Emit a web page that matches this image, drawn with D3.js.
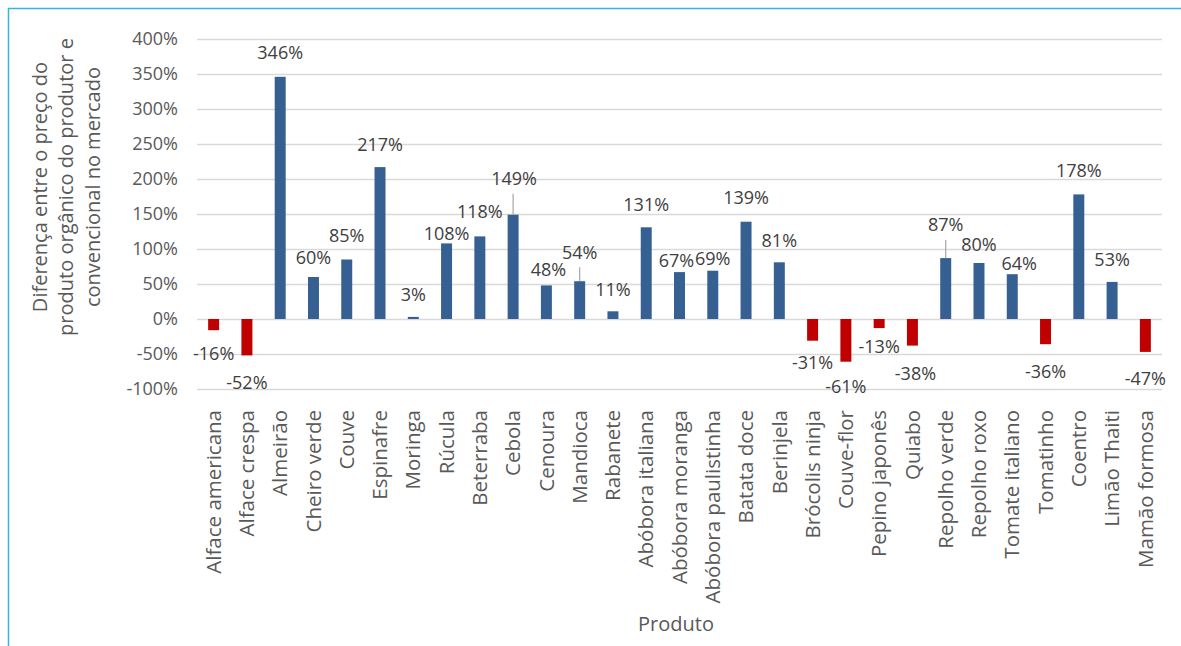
<!DOCTYPE html>
<html>
<head>
<meta charset="utf-8">
<script src="https://cdn.jsdelivr.net/npm/d3@7"></script>
<style>
  html, body { margin: 0; padding: 0; background: #fff; }
  svg { display: block; font-family: "Open Sans", "DejaVu Sans", sans-serif; }
</style>
</head>
<body>
<svg id="chart" width="1181" height="646"></svg>
<script>
// Produtos e diferença percentual (orgânico do produtor vs convencional no mercado)
const produtos = [
  "Alface americana", "Alface crespa", "Almeirão", "Cheiro verde", "Couve",
  "Espinafre", "Moringa", "Rúcula", "Beterraba", "Cebola", "Cenoura",
  "Mandioca", "Rabanete", "Abóbora italiana", "Abóbora moranga",
  "Abóbora paulistinha", "Batata doce", "Berinjela", "Brócolis ninja",
  "Couve-flor", "Pepino japonês", "Quiabo", "Repolho verde", "Repolho roxo",
  "Tomate italiano", "Tomatinho", "Coentro", "Limão Thaiti", "Mamão formosa"
];
const diferenca = [
  -16, -52, 346, 60, 85, 217, 3, 108, 118, 149, 48, 54, 11, 131, 67, 69,
  139, 81, -31, -61, -13, -38, 87, 80, 64, -36, 178, 53, -47
];
const yTicks = [-100, -50, 0, 50, 100, 150, 200, 250, 300, 350, 400];

// Hand-placed data-label offsets (px from the end of each bar)
const labelLift = [
  23, 27, -24, -19, -24, -22, -22, -10, -25, -36, -16, -29, -22, -23, -11,
  -12, -24, -22, 22, 25, 19, 28, -33, -18, -11, 27, -24, -22, 27
];
const labelShiftX = [
  0, 0, 0, 0, 0, 0, 0, 0, 0, 1, 2, 0, 0, 0, -3,
  0, 0, 0, 0, 0, 0, 3, 0, 0, 7, 0, 0, 0, 0
];

const svg = d3.select("#chart");
const plot = { left: 197, right: 1162, top: 39, bottom: 389 };

const x = d3.scaleBand()
  .domain(produtos)
  .range([plot.left, plot.right])
  .paddingInner(0.67)
  .paddingOuter(0.335);

const y = d3.scaleLinear()
  .domain([-100, 400])
  .range([plot.bottom, plot.top]);

// Frame lines
svg.append("line").attr("x1", 8).attr("x2", 1181).attr("y1", 8.5).attr("y2", 8.5)
  .attr("stroke", "#35b2e8").attr("stroke-width", 1.5);
svg.append("line").attr("x1", 8.5).attr("x2", 8.5).attr("y1", 8).attr("y2", 646)
  .attr("stroke", "#35b2e8").attr("stroke-width", 1.5);

// Gridlines
svg.append("g").selectAll("line").data(yTicks).join("line")
  .attr("x1", plot.left).attr("x2", plot.right)
  .attr("y1", d => Math.round(y(d)) + 0.5).attr("y2", d => Math.round(y(d)) + 0.5)
  .attr("stroke", "#d9d9d9").attr("stroke-width", 1.3);

// Y axis
const yAxis = svg.append("g")
  .attr("transform", `translate(${plot.left - 19},0)`)
  .call(d3.axisLeft(y).tickValues(yTicks).tickSize(0).tickPadding(0)
    .tickFormat(d => d + "%"));
yAxis.select(".domain").remove();
yAxis.selectAll("text")
  .attr("fill", "#595959").style("font-size", "18px")
  .style("font-family", "'Open Sans', sans-serif");

// Bars
svg.append("g").selectAll("rect").data(produtos).join("rect")
  .attr("x", d => x(d))
  .attr("width", x.bandwidth())
  .attr("y", (d, i) => y(Math.max(0, diferenca[i])))
  .attr("height", (d, i) => Math.abs(y(diferenca[i]) - y(0)))
  .attr("fill", (d, i) => diferenca[i] < 0 ? "#c00000" : "#366092");

// Leader lines for labels lifted far from their bars
svg.append("g").selectAll("line").data(produtos.filter((d, i) => labelLift[i] <= -29)).join("line")
  .attr("x1", d => x(d) + x.bandwidth() / 2)
  .attr("x2", d => x(d) + x.bandwidth() / 2)
  .attr("y1", d => { const i = produtos.indexOf(d); return y(diferenca[i]) + labelLift[i] + 15; })
  .attr("y2", d => { const i = produtos.indexOf(d); return y(diferenca[i]); })
  .attr("stroke", "#a6a6a6").attr("stroke-width", 1.2);

// Data labels
svg.append("g").selectAll("text").data(produtos).join("text")
  .attr("x", (d, i) => x(d) + x.bandwidth() / 2 + labelShiftX[i])
  .attr("y", (d, i) => y(diferenca[i]) + labelLift[i])
  .attr("dy", "0.35em")
  .attr("text-anchor", "middle")
  .attr("fill", "#404040")
  .style("font-size", "18px")
  .text((d, i) => diferenca[i] + "%");

// Category labels
const xAxis = svg.append("g")
  .attr("transform", `translate(0,${plot.bottom + 21})`)
  .call(d3.axisBottom(x).tickSize(0).tickPadding(0));
xAxis.select(".domain").remove();
xAxis.selectAll("text")
  .attr("transform", "rotate(-90)")
  .attr("x", 0).attr("y", 0).attr("dy", "0.35em")
  .attr("text-anchor", "end")
  .attr("fill", "#595959").style("font-size", "20.5px")
  .style("font-family", "'Open Sans', sans-serif");

// Axis titles
svg.append("text")
  .attr("x", 676).attr("y", 631)
  .attr("text-anchor", "middle")
  .attr("fill", "#595959").style("font-size", "20px")
  .text("Produto");

const yTitle = svg.append("text")
  .attr("transform", "translate(66,187) rotate(-90)")
  .attr("text-anchor", "middle")
  .attr("fill", "#595959").style("font-size", "20px");
["Diferença entre o preço do", "produto orgânico do produtor e", "convencional no mercado"]
  .forEach((t, k) => yTitle.append("tspan").attr("x", 0).attr("y", (k - 1) * 26.5).attr("dy", "0.35em").text(t));
</script>
</body>
</html>
